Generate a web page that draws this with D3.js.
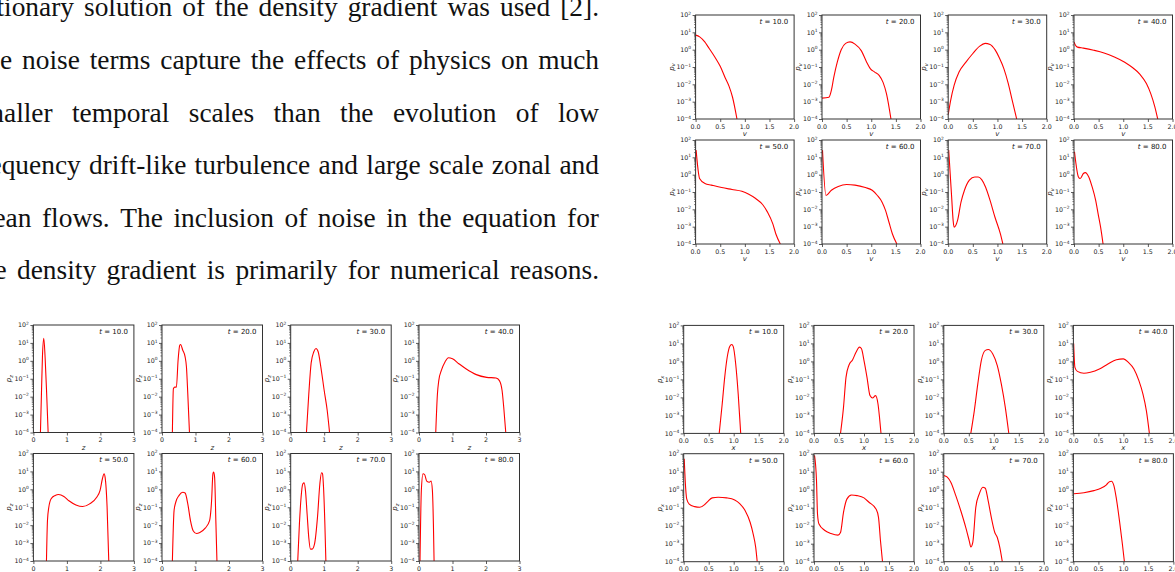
<!DOCTYPE html>
<html><head><meta charset="utf-8">
<script src="https://cdn.jsdelivr.net/npm/d3@7"></script>
<style>html,body{margin:0;padding:0;background:#fff;overflow:hidden}</style>
</head><body><svg id="c" width="1175" height="572"></svg>
<script>
// ---------------- DATA ----------------
const paraLines = [
  "stationary solution of the density gradient was used [2].",
  "The noise terms capture the effects of physics on much",
  "smaller temporal scales than the evolution of low",
  "frequency drift-like turbulence and large scale zonal and",
  "mean flows. The inclusion of noise in the equation for",
  "the density gradient is primarily for numerical reasons."
];
const tLabels = ["10.0","20.0","30.0","40.0","50.0","60.0","70.0","80.0"];
const yTickExps = [2,1,0,-1,-2,-3,-4];
const vTicks = [0,0.5,1,1.5,2];
const zTicks = [0,1,2,3];
const xTicks = [0,0.5,1,1.5,2];

// velocity grid (p_v)
const vVals = [
 [0,0.083,0.186,0.255,0.39,0.50,0.60,0.68,0.75,0.84],
 [0,0.14,0.19,0.24,0.31,0.39,0.48,0.57,0.67,0.80,0.90,0.98,1.07,1.16,1.24,1.31,1.40],
 [0,0.05,0.12,0.22,0.36,0.50,0.64,0.75,0.85,0.95,1.04,1.13,1.22,1.30,1.39],
 [0,0.03,0.07,0.19,0.40,0.61,0.82,1.03,1.20,1.34,1.47,1.56,1.64,1.70],
 [0.01,0.06,0.08,0.19,0.32,0.53,0.74,0.94,1.08,1.22,1.36,1.46,1.57,1.63,1.72],
 [0.01,0.08,0.19,0.33,0.50,0.67,0.88,1.02,1.12,1.22,1.29,1.36,1.43,1.52],
 [0.01,0.07,0.10,0.12,0.19,0.26,0.33,0.43,0.54,0.61,0.68,0.76,0.85,0.95,1.06,1.11],
 [0.01,0.09,0.125,0.19,0.23,0.30,0.37,0.44,0.49,0.54,0.59]
];
const pvVals = [
 [6.9,5.5,2.8,1.45,0.38,0.11,0.024,0.0076,0.0018,1e-4],
 [0.0016,0.0018,0.0045,0.026,0.19,1.0,2.3,2.8,2.1,0.85,0.21,0.081,0.051,0.033,0.013,0.0028,1e-4],
 [1.8e-4,0.0012,0.0087,0.051,0.19,0.60,1.6,2.3,2.0,1.0,0.33,0.081,0.011,0.0012,1e-4],
 [2.8,1.8,1.4,1.23,0.93,0.65,0.38,0.19,0.087,0.038,0.011,0.0028,5.2e-4,1e-4],
 [26,1.17,0.60,0.31,0.25,0.18,0.14,0.11,0.074,0.042,0.019,0.0069,0.0014,3.8e-4,1e-4],
 [26,0.063,0.126,0.21,0.27,0.25,0.18,0.126,0.065,0.026,0.0087,0.0018,3.8e-4,1e-4],
 [26,0.051,0.0023,9.3e-4,0.0023,0.026,0.126,0.48,0.74,0.74,0.52,0.19,0.033,0.0035,3.8e-4,1e-4],
 [21,0.74,0.60,1.17,1.32,0.74,0.19,0.033,0.0055,9.3e-4,1e-4]
];
// z grid (p_z)
const zVals = [
 [0.21,0.24,0.27,0.31,0.35,0.40,0.44],
 [0.31,0.34,0.38,0.43,0.48,0.53,0.555,0.62,0.69,0.73,0.77,0.82],
 [0.47,0.54,0.61,0.69,0.755,0.82,0.90,1.0,1.09,1.16],
 [0.50,0.55,0.59,0.67,0.78,0.88,1.0,1.19,1.40,1.71,2.02,2.30,2.40,2.48,2.53,2.59],
 [0.39,0.42,0.46,0.53,0.65,0.75,0.91,1.06,1.27,1.47,1.68,1.89,1.99,2.06,2.11,2.14,2.20,2.25],
 [0.31,0.36,0.41,0.51,0.62,0.69,0.77,0.85,0.93,1.03,1.13,1.29,1.42,1.48,1.52,1.54,1.57,1.61,1.64],
 [0.21,0.26,0.31,0.36,0.40,0.44,0.49,0.54,0.59,0.64,0.71,0.80,0.87,0.92,0.95,0.98,1.02,1.05],
 [0.03,0.07,0.12,0.17,0.23,0.31,0.36,0.40,0.43,0.45]
];
const pzVals = [
 [1e-4,0.014,1.7,18,1.5,0.0093,1e-4],
 [1e-4,0.028,0.034,0.034,1.07,7.4,8.1,3.9,1.66,0.45,0.014,1e-4],
 [1e-4,0.014,0.74,3.2,4.9,3.2,0.45,0.022,0.0017,1e-4],
 [1e-4,0.014,0.079,0.30,0.9,1.5,1.3,0.69,0.36,0.17,0.12,0.11,0.079,0.022,0.0025,1e-4],
 [1e-4,0.018,0.1,0.30,0.45,0.51,0.40,0.23,0.135,0.11,0.155,0.36,0.87,3.9,7.4,4.8,0.1,1e-4],
 [1e-4,0.065,0.19,0.46,0.69,0.62,0.155,0.018,0.0049,0.0034,0.0039,0.0068,0.018,0.23,7.4,9.1,4.8,0.0115,1e-4],
 [1e-4,0.0115,0.36,2.0,2.3,0.87,0.042,0.002,4.6e-4,4.6e-4,8.7e-4,0.028,2.0,8.5,7.4,1.3,0.0115,1e-4],
 [1e-4,0.87,7.4,6.5,2.9,2.5,2.9,0.87,0.0115,1e-4]
];
// x grid (p_x)
const xVals = [
 [0.71,0.77,0.82,0.87,0.92,0.96,0.99,1.04,1.09,1.14],
 [0.53,0.59,0.64,0.70,0.77,0.84,0.91,0.95,1.0,1.06,1.12,1.17,1.23,1.28,1.31,1.34],
 [0.54,0.61,0.68,0.75,0.83,0.89,0.98,1.07,1.15,1.23,1.30],
 [0.005,0.03,0.08,0.21,0.34,0.52,0.69,0.86,1.0,1.10,1.21,1.31,1.39,1.46,1.52],
 [0.01,0.03,0.06,0.11,0.22,0.32,0.42,0.48,0.57,0.69,0.86,1.02,1.12,1.23,1.33,1.39,1.44,1.47],
 [0.01,0.05,0.07,0.10,0.21,0.34,0.48,0.53,0.59,0.66,0.75,0.86,1.0,1.10,1.24,1.29,1.33,1.37],
 [0.0,0.07,0.14,0.24,0.34,0.44,0.51,0.54,0.58,0.64,0.71,0.78,0.83,0.88,0.95,1.02,1.07,1.12,1.17],
 [0.01,0.21,0.41,0.55,0.66,0.72,0.76,0.81,0.86,0.93,0.98,1.02]
];
const pxVals = [
 [1e-4,0.0043,0.13,1.7,6.8,8.7,6.8,0.72,0.0155,1e-4],
 [1e-4,0.0028,0.13,0.63,1.2,3.2,6.2,5.0,1.1,0.13,0.0126,0.0093,0.0126,0.0043,7.9e-4,1e-4],
 [1e-4,0.0018,0.056,1.12,4.1,4.6,2.6,0.59,0.056,0.0028,1e-4],
 [10,0.47,0.28,0.22,0.25,0.38,0.72,1.23,1.38,0.89,0.38,0.085,0.0155,0.0018,1e-4],
 [52,3.2,0.31,0.16,0.115,0.105,0.15,0.22,0.35,0.38,0.35,0.27,0.17,0.068,0.015,0.0034,6.2e-4,1e-4],
 [81,3.2,0.045,0.0123,0.0056,0.0037,0.003,0.0042,0.055,0.31,0.51,0.47,0.35,0.2,0.085,0.029,0.0014,1e-4],
 [6.2,5.0,2.6,0.47,0.068,0.0079,0.0014,6.6e-4,0.0012,0.105,0.59,1.38,1.2,0.31,0.029,0.0042,0.0022,6.2e-4,1e-4],
 [0.59,0.68,0.89,1.2,1.86,2.8,2.95,1.7,0.31,0.0123,9.3e-4,1e-4]
];

// ---------------- LAYOUT ----------------
const svg = d3.select("#c");
svg.append("rect").attr("width",1175).attr("height",572).attr("fill","#fff");

const para = {right:599, base0:16.3, step:52.6, starts:[84,22,72,89,42,17], size:27.4};
paraLines.forEach((line,i)=>{
  const words = line.split(" ");
  const g = svg.append("g").attr("font-family","'Liberation Serif','Times New Roman',serif")
     .attr("font-size",para.size).attr("fill","#111");
  const y = para.base0 + i*para.step;
  const nodes = words.map(w=>g.append("text").attr("y",y).text(w));
  const wid = nodes.map(n=>n.node().getComputedTextLength());
  const start = para.starts[i];
  const rest = d3.sum(wid.slice(1));
  const gap = (para.right - start - rest)/(words.length-2);
  let xx = start;
  for(let k=1;k<words.length;k++){ nodes[k].attr("x",xx); xx += wid[k]+gap; }
  nodes[0].attr("x", start - gap - wid[0]);
});

const grids = [
  {xs:vVals, ps:pvVals, xmax:2, ticks:vTicks, fmt:d3.format(".1f"), sym:"v",
   lefts:[695.6,822,948.2,1074], tops:[15,140], w:98.5, h:104},
  {xs:zVals, ps:pzVals, xmax:3, ticks:zTicks, fmt:d3.format("d"), sym:"z",
   lefts:[33.4,162,290.7,419], tops:[325,453.5], w:100.5, h:107.5},
  {xs:xVals, ps:pxVals, xmax:2, ticks:xTicks, fmt:d3.format(".1f"), sym:"x",
   lefts:[683.7,814,943.8,1073.4], tops:[325.4,453.7], w:100, h:108}
];

const FONT = "'DejaVu Sans', sans-serif";
const TXT = "#222";
const minorVals = [];
for(let e=-4;e<2;e++) for(let m=2;m<10;m++) minorVals.push(m*Math.pow(10,e));
let clipId = 0;

grids.forEach(G=>{
  for(let i=0;i<8;i++){
    const L = G.lefts[i%4], T = G.tops[Math.floor(i/4)], W = G.w, H = G.h;
    const x = d3.scaleLinear().domain([0,G.xmax]).range([L,L+W]);
    const y = d3.scaleLog().domain([1e-4,1e2]).range([T+H,T]);
    const g = svg.append("g");
    const id = "cl"+(clipId++);
    g.append("clipPath").attr("id",id).append("rect")
      .attr("x",L).attr("y",T).attr("width",W).attr("height",H);
    const pts = G.xs[i].map((v,k)=>[v,G.ps[i][k]]);
    g.append("path").attr("clip-path",`url(#${id})`)
      .attr("d", d3.line().x(d=>x(d[0])).y(d=>y(d[1])).curve(d3.curveMonotoneX)(pts))
      .attr("fill","none").attr("stroke","#ff0000").attr("stroke-width",1.1);
    // minor ticks
    g.append("g").attr("transform",`translate(${L},0)`)
      .call(d3.axisLeft(y).tickValues(minorVals).tickSize(1.6).tickSizeOuter(0).tickFormat(""))
      .call(s=>{s.select(".domain").remove(); s.selectAll("line").attr("stroke","#333").attr("stroke-width",0.6);});
    // major y ticks
    const ya = g.append("g").attr("transform",`translate(${L},0)`)
      .call(d3.axisLeft(y).tickValues(yTickExps.map(e=>Math.pow(10,e))).tickSize(3).tickSizeOuter(0).tickFormat(""));
    ya.select(".domain").remove();
    ya.selectAll("line").attr("stroke","#333").attr("stroke-width",0.8);
    yTickExps.forEach(e=>{
      const t = g.append("text").attr("x",L-4.5).attr("y",y(Math.pow(10,e))+2.4)
        .attr("text-anchor","end").attr("font-family",FONT).attr("font-size",6.3).attr("fill",TXT);
      t.append("tspan").text("10");
      t.append("tspan").attr("dy",-2.8).attr("font-size",4.4).text(e<0?"\u2212"+(-e):String(e));
    });
    // x axis ticks
    const xa = g.append("g").attr("transform",`translate(0,${T+H})`)
      .call(d3.axisBottom(x).tickValues(G.ticks).tickSize(3).tickSizeOuter(0).tickFormat(""));
    xa.select(".domain").remove();
    xa.selectAll("line").attr("stroke","#333").attr("stroke-width",0.8);
    G.ticks.forEach(v=>{
      g.append("text").attr("x",x(v)).attr("y",T+H+9.5)
        .attr("text-anchor","middle").attr("font-family",FONT).attr("font-size",6.3)
        .attr("fill",TXT).text(G.fmt(v));
    });
    // frame
    g.append("rect").attr("x",L).attr("y",T).attr("width",W).attr("height",H)
      .attr("fill","none").attr("stroke","#333").attr("stroke-width",1);
    // title
    const tt = g.append("text").attr("x",L+W-6).attr("y",T+8.8).attr("text-anchor","end")
      .attr("font-family",FONT).attr("font-size",7).attr("fill","#111");
    tt.append("tspan").attr("font-style","italic").text("t");
    tt.append("tspan").text(" = "+tLabels[i]);
    // x label
    g.append("text").attr("x",L+W/2).attr("y",T+H+17).attr("text-anchor","middle")
      .attr("font-family",FONT).attr("font-size",7).attr("font-style","italic").attr("fill",TXT).text(G.sym);
    // y label
    const yl = g.append("text").attr("transform",`translate(${L-22},${T+H/2}) rotate(-90)`)
      .attr("text-anchor","middle").attr("font-family",FONT).attr("font-size",7)
      .attr("font-style","italic").attr("fill",TXT);
    yl.append("tspan").text("p");
    yl.append("tspan").attr("dy",1.8).attr("font-size",5).text(G.sym);
  }
});
</script></body></html>
